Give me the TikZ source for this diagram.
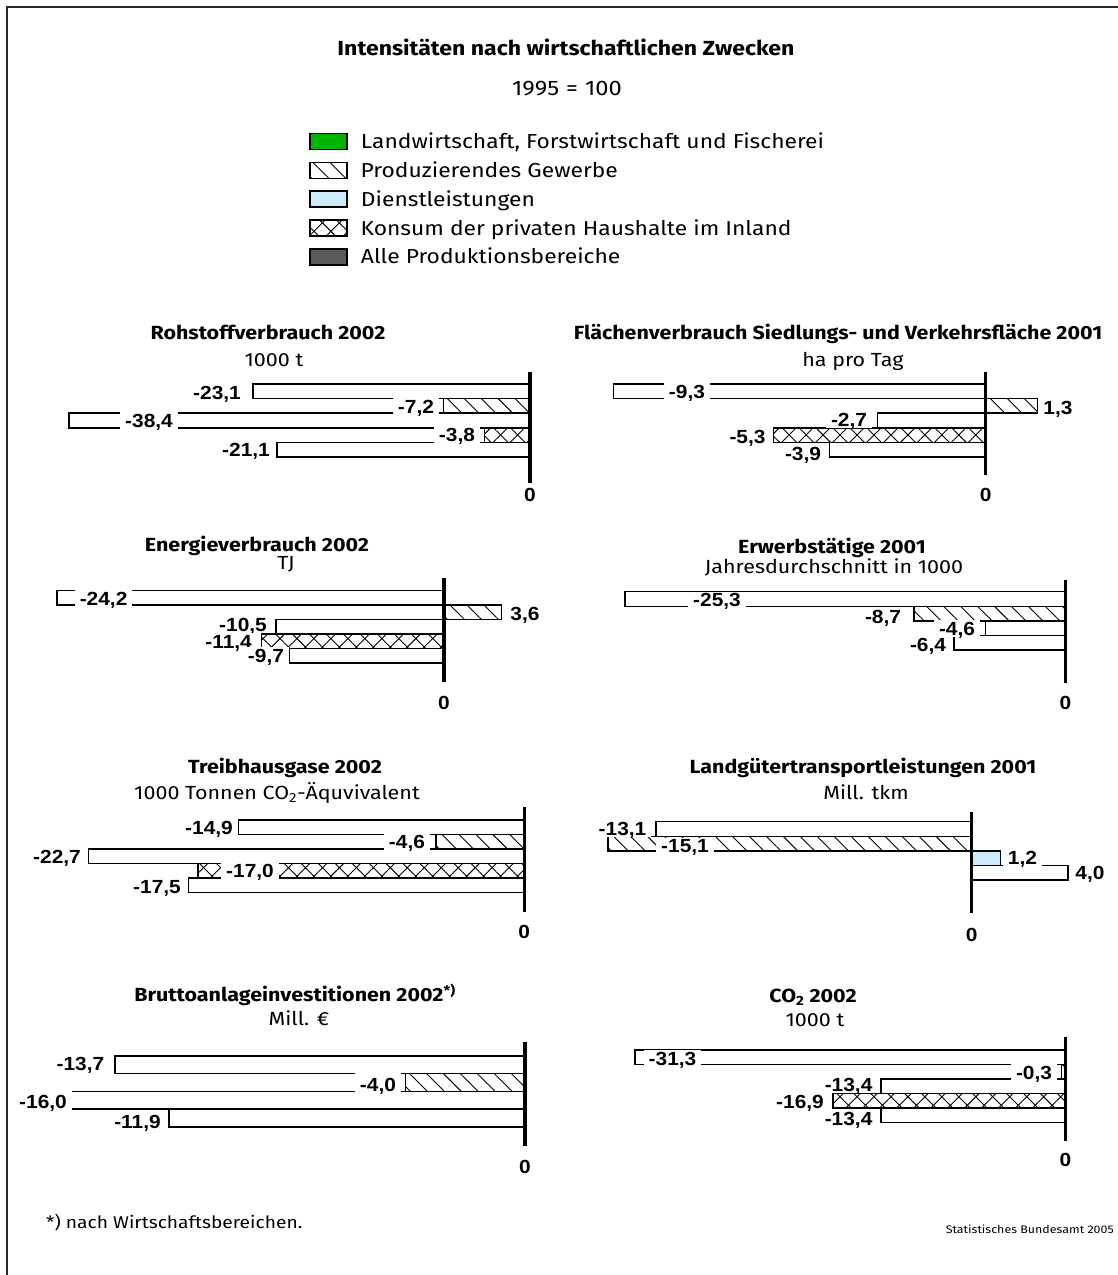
\documentclass[tikz,border=0pt]{standalone}
\usepackage{fontspec}
\setmainfont{Fira Sans}[FakeStretch=1.13]
\newfontfamily\valfont{Liberation Sans}[FakeStretch=1.1]
\usetikzlibrary{patterns.meta,positioning}

\definecolor{agrargreen}{RGB}{0,180,0}
\definecolor{dienstblue}{RGB}{205,236,250}
\definecolor{allegray}{RGB}{90,90,90}
\definecolor{framegray}{RGB}{40,40,40}

\pgfdeclarelayer{front}
\pgfsetlayers{main,front}

\begin{document}
\begin{tikzpicture}[x=1pt,y=-1pt,
  bar/.style={draw,line width=1.5pt},
  barplain/.style={bar,fill=white},
  barhatch/.style={bar,pattern={Lines[angle=-45,distance=12pt,line width=0.9pt]}},
  barcross/.style={bar,pattern={Hatch[angle=45,distance=12pt,line width=0.9pt]}},
  barblue/.style={bar,fill=dienstblue},
  axisline/.style={line width=3.2pt},
  val/.style={font=\valfont\bfseries\fontsize{19}{19}\selectfont,fill=white,
    inner xsep=5pt,inner ysep=#1,text height=13.6pt,text depth=0pt},
  val/.default=1.6pt,
  zero/.style={font=\valfont\bfseries\fontsize{19}{19}\selectfont,
    inner sep=0pt,text height=13.6pt,text depth=0pt},
  htitle/.style={font=\bfseries\fontsize{20.4}{24}\selectfont,inner sep=0pt,text height=14pt,text depth=0pt},
  hsub/.style={font=\fontsize{21}{24}\selectfont,inner sep=0pt,text height=14.5pt,text depth=0pt},
  ctitle/.style={font=\bfseries\fontsize{19}{22}\selectfont,inner sep=0pt,text height=13pt,text depth=0pt},
  csub/.style={font=\fontsize{19}{22}\selectfont,inner sep=0pt,text height=13pt,text depth=0pt},
  legbox/.style={draw,line width=1.5pt,minimum width=37pt,minimum height=16pt,inner sep=0pt},
  legagrar/.style={fill=agrargreen},
  leghatch/.style={pattern={Lines[angle=-45,distance=12pt,line width=0.9pt]}},
  legdienst/.style={fill=dienstblue},
  legcross/.style={pattern={Hatch[angle=45,distance=12pt,line width=0.9pt]}},
  legalle/.style={fill=allegray},
  legtext/.style={font=\fontsize{20.2}{24}\selectfont,inner sep=0pt,text height=14pt,text depth=0pt},
  foot/.style={font=\fontsize{17}{20}\selectfont,inner sep=0pt},
  quelle/.style={font=\fontsize{11}{14}\selectfont,inner sep=0pt}]

  \useasboundingbox (0,0) rectangle (1118,1275);
  \draw[framegray,line width=2pt] (1118,7) -- (7,7) -- (7,1275);

  % Kopf
  \node[htitle] (titel) at (566,48) {Intensitäten nach wirtschaftlichen Zwecken};
  \node[hsub] (basis) at (567,88) {1995\,\,=\,\,100};

  % Legende
  \foreach \st/\txt [count=\i] in {legagrar/{Landwirtschaft, Forstwirtschaft und Fischerei},
      leghatch/Produzierendes Gewerbe,legdienst/Dienstleistungen,
      legcross/Konsum der privaten Haushalte im Inland,legalle/Alle Produktionsbereiche}{
    \node[legbox,\st] (box-\i) at (328.5,{141.5+(\i-1)*28.85}) {};
    \node[legtext,right=13pt of box-\i] (leg-\i) {\txt};
  }

  % Rohstoffverbrauch
  \node[ctitle] (roh-t) at (268,333) {Rohstoffverbrauch 2002};
  \node[csub] (roh-s) at (274,360) {1000 t};
  \foreach \v/\txt/\st/\lx/\ly [count=\i] in {-23.1/{-23,1}/barplain/217/392.7,
      -7.2/{-7,2}/barhatch/416/406.7,-38.4/{-38,4}/barplain/149/420.7,
      -3.8/{-3,8}/barcross/457/435,-21.1/{-21,1}/barplain/246/450}{
    \draw[\st] (530,{384+(\i-1)*14.6}) rectangle ({530+12*(\v)},{384+\i*14.6});
    \begin{pgfonlayer}{front}
      \node[val] (roh-\i) at (\lx,\ly) {\txt};
    \end{pgfonlayer}
  }
  \draw[axisline] (530,372) -- (530,483);
  \node[zero] (roh-0) at (530,495) {0};

  % Flaechenverbrauch
  \node[ctitle] (flae-t) at (838,333) {Flächenverbrauch Siedlungs- und Verkehrsfläche 2001};
  \node[csub] (flae-s) at (853,360) {ha pro Tag};
  \foreach \v/\txt/\st/\lx/\ly [count=\i] in {-9.3/{-9,3}/barplain/687/391.7,
      1.3/{1,3}/barhatch/1058/407.3,-2.7/{-2,7}/barplain/849/420,
      -5.3/{-5,3}/barcross/747.5/436.7,-3.9/{-3,9}/barplain/803/453.3}{
    \draw[\st] (985.7,{384+(\i-1)*14.6}) rectangle ({985.7+40*(\v)},{384+\i*14.6});
    \begin{pgfonlayer}{front}
      \node[val] (flae-\i) at (\lx,\ly) {\txt};
    \end{pgfonlayer}
  }
  \draw[axisline] (985.7,372) -- (985.7,475);
  \node[zero] (flae-0) at (985.7,495) {0};

  % Energieverbrauch
  \node[ctitle] (ener-t) at (257,545) {Energieverbrauch 2002};
  \node[csub] (ener-s) at (286,563) {TJ};
  \foreach \v/\txt/\st/\lx/\ly [count=\i] in {-24.2/{-24,2}/barplain/103.6/598.3,
      3.6/{3,6}/barhatch/525/613.3,-10.5/{-10,5}/barplain/243/624.5,
      -11.4/{-11,4}/barcross/228.6/641.5,-9.7/{-9,7}/barplain/266/655.5}{
    \draw[\st] (444,{590.7+(\i-1)*14.5}) rectangle ({444+16*(\v)},{590.7+\i*14.5});
    \begin{pgfonlayer}{front}
      \node[val] (ener-\i) at (\lx,\ly) {\txt};
    \end{pgfonlayer}
  }
  \draw[axisline] (444,578) -- (444,682);
  \node[zero] (ener-0) at (444,703) {0};

  % Erwerbstaetige
  \node[ctitle] (erw-t) at (832,547) {Erwerbstätige 2001};
  \node[csub] (erw-s) at (834,567) {Jahresdurchschnitt in 1000};
  \foreach \v/\txt/\st/\lx/\ly [count=\i] in {-25.3/{-25,3}/barplain/717/600,
      -8.7/{-8,7}/barhatch/883/616.7,-4.6/{-4,6}/barplain/957/628.3,
      -6.4/{-6,4}/barplain/928/644.3}{
    \draw[\st] (1065.4,{591.7+(\i-1)*14.6}) rectangle ({1065.4+17.4*(\v)},{591.7+\i*14.6});
    \begin{pgfonlayer}{front}
      \node[val] (erw-\i) at (\lx,\ly) {\txt};
    \end{pgfonlayer}
  }
  \draw[axisline] (1065.4,580) -- (1065.4,683);
  \node[zero] (erw-0) at (1065.4,703) {0};

  % Treibhausgase
  \node[ctitle] (thg-t) at (285,767) {Treibhausgase 2002};
  \node[csub] (thg-s) at (277,793) {1000 Tonnen CO\textsubscript{2}-Äquvivalent};
  \foreach \v/\txt/\st/\lx/\ly [count=\i] in {-14.9/{-14,9}/barplain/209/827.3,
      -4.6/{-4,6}/barhatch/407/841.7,-22.7/{-22,7}/barplain/57/856.7,
      -17.0/{-17,0}/barcross/250/870.7,-17.5/{-17,5}/barplain/157/886.7}{
    \draw[\st] (524.3,{820+(\i-1)*14.5}) rectangle ({524.3+19.2*(\v)},{820+\i*14.5});
    \begin{pgfonlayer}{front}
      \node[val] (thg-\i) at (\lx,\ly) {\txt};
    \end{pgfonlayer}
  }
  \draw[axisline] (524.3,807) -- (524.3,912);
  \node[zero] (thg-0) at (524.3,932) {0};

  % Landguetertransportleistungen
  \node[ctitle] (lgt-t) at (863,767) {Landgütertransportleistungen 2001};
  \node[csub] (lgt-s) at (866,793) {Mill. tkm};
  \foreach \v/\txt/\st/\lx/\ly [count=\i] in {-13.1/{-13,1}/barplain/622.5/828.3,
      -15.1/{-15,1}/barhatch/685/846,1.2/{1,2}/barblue/1022.5/858,
      4.0/{4,0}/barplain/1090/872.3}{
    \draw[\st] (971.8,{821.7+(\i-1)*14.6}) rectangle ({971.8+24.1*(\v)},{821.7+\i*14.6});
    \begin{pgfonlayer}{front}
      \node[val] (lgt-\i) at (\lx,\ly) {\txt};
    \end{pgfonlayer}
  }
  \draw[axisline] (971.8,812) -- (971.8,913);
  \node[zero] (lgt-0) at (971.8,935) {0};

  % Bruttoanlageinvestitionen
  \node[ctitle] (bai-t) at (295,995) {Bruttoanlageinvestitionen 2002\textsuperscript{*)}};
  \node[csub] (bai-s) at (299,1019) {Mill. €};
  \foreach \v/\txt/\st/\lx/\ly [count=\i] in {-13.7/{-13,7}/barplain/80.4/1063.3,
      -4.0/{-4,0}/barhatch/378/1085,-16.0/{-16,0}/barplain/43/1101.7,
      -11.9/{-11,9}/barplain/137.5/1121.7}{
    \draw[\st] (525,{1056+(\i-1)*17.7}) rectangle ({525+29.93*(\v)},{1056+\i*17.7});
    \begin{pgfonlayer}{front}
      \node[val=5pt] (bai-\i) at (\lx,\ly) {\txt};
    \end{pgfonlayer}
  }
  \draw[axisline] (525,1042) -- (525,1146);
  \node[zero] (bai-0) at (525,1167) {0};

  % CO2
  \node[ctitle] (cot-t) at (813,996) {CO\textsubscript{2} 2002};
  \node[csub] (cot-s) at (815,1020) {1000 t};
  \foreach \v/\txt/\st/\lx/\ly [count=\i] in {-31.3/{-31,3}/barplain/672.5/1058.3,
      -0.3/{-0,3}/barhatch/1034/1072.7,-13.4/{-13,4}/barplain/848.6/1084.3,
      -16.9/{-16,9}/barcross/800/1101.5,-13.4/{-13,4}/barplain/848.6/1118.5}{
    \draw[\st] (1065.4,{1050+(\i-1)*14.5}) rectangle ({1065.4+13.75*(\v)},{1050+\i*14.5});
    \begin{pgfonlayer}{front}
      \node[val] (cot-\i) at (\lx,\ly) {\txt};
    \end{pgfonlayer}
  }
  \draw[axisline] (1065.4,1037) -- (1065.4,1141);
  \node[zero] (cot-0) at (1065.4,1160) {0};

  % Fussnote und Quelle
  \node[foot,anchor=west] (fussnote) at (46,1223) {*) nach Wirtschaftsbereichen.};
  \node[quelle,anchor=east] (quelle) at (1114,1229) {Statistisches Bundesamt 2005};

\end{tikzpicture}
\end{document}
